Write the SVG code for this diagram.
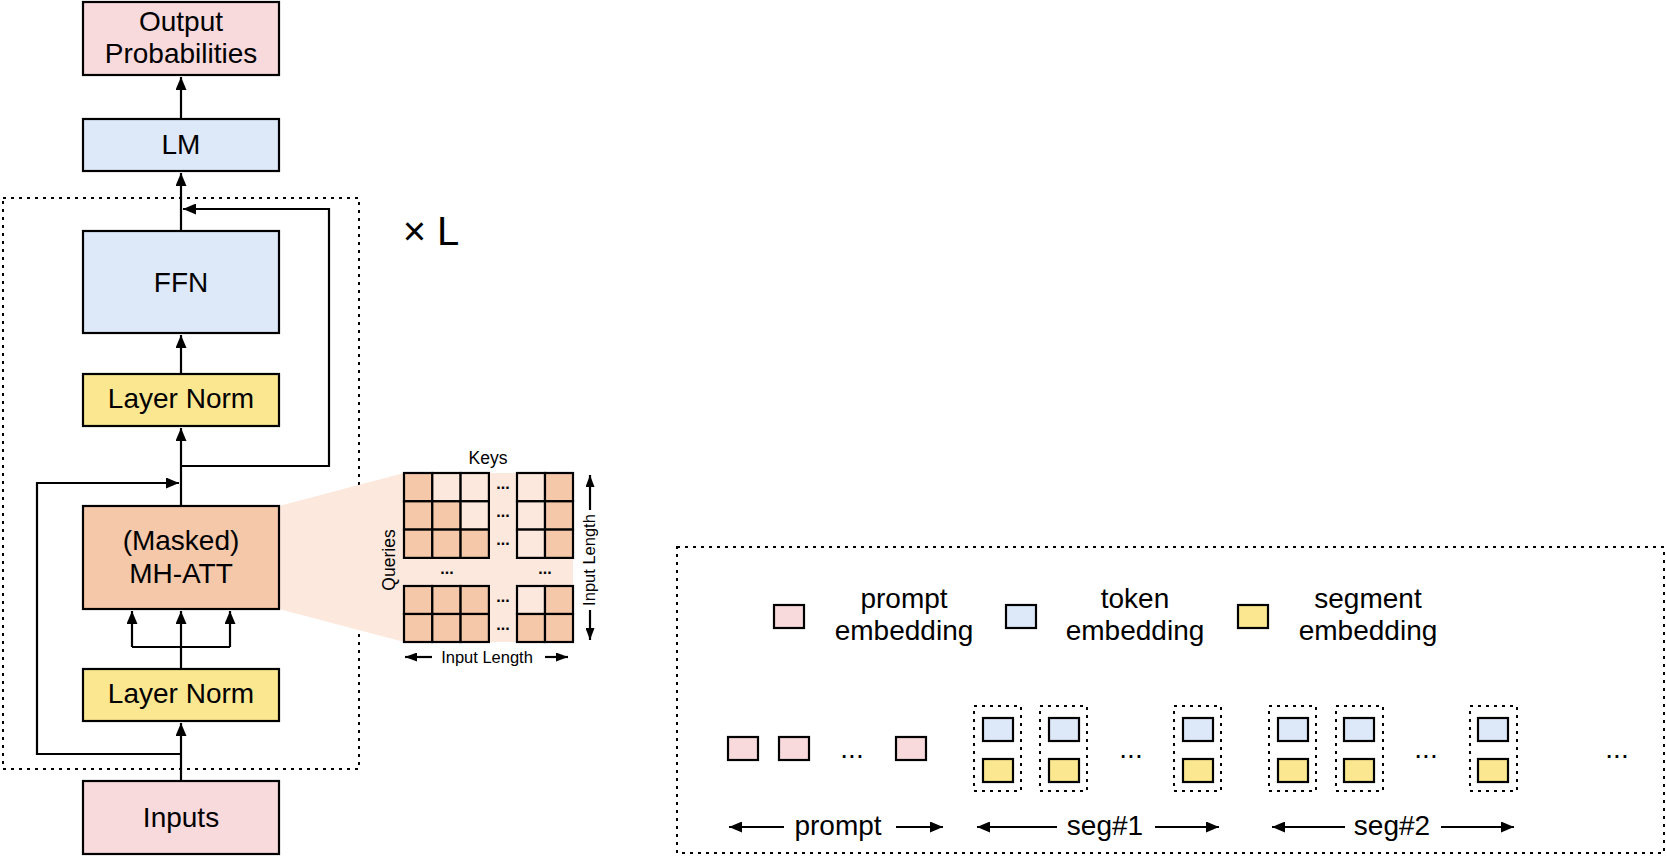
<svg xmlns="http://www.w3.org/2000/svg" width="1666" height="856" viewBox="0 0 1666 856">
<style>
  .t { font-family: "Liberation Sans", Arial, Helvetica, sans-serif; fill: #000; text-anchor: middle; }
  .lbl { font-size: 28px; }
  .sm { font-size: 16.5px; }
  .md { font-size: 17.5px; }
  .dots { font-size: 16px; font-weight: bold; }
  .box { stroke: #000; stroke-width: 2.2; }
  .pink { fill: #f8d9dc; }
  .blue { fill: #dde8f9; }
  .yellow { fill: #fbe78f; }
  .peach { fill: #f5c8a9; }
  .lpeach { fill: #fce8dd; }
  .dash { fill: none; stroke: #000; stroke-width: 2; stroke-dasharray: 3 5; }
  .ln { fill: none; stroke: #000; stroke-width: 2.2; }
  .cell { stroke: #000; stroke-width: 2.2; }
</style>
<defs>
  <marker id="ah" viewBox="0 0 13 11" refX="13" refY="5.5" markerWidth="13" markerHeight="11" orient="auto" markerUnits="userSpaceOnUse">
    <path d="M0,0 L13,5.5 L0,11 z" fill="#000"/>
  </marker>
  <marker id="ahs" viewBox="0 0 12 9" refX="12" refY="4.5" markerWidth="12" markerHeight="9" orient="auto" markerUnits="userSpaceOnUse">
    <path d="M0,0 L12,4.5 L0,9 z" fill="#000"/>
  </marker>
</defs>

<!-- outer dashed layer box -->
<rect class="dash" x="3" y="198" width="356" height="571"/>
<text class="t" x="431" y="245" style="font-size:40px;">× L</text>

<!-- attention zoom background -->
<g id="attention-matrix">
  <polygon class="lpeach" points="279,506 404,473 573,473 573,642 404,642 279,609"/>
  <!-- top-left block 3x3 -->
  <rect class="cell peach" x="404" y="473" width="28.3" height="28.3"/>
  <rect class="cell lpeach" x="432.3" y="473" width="28.3" height="28.3"/>
  <rect class="cell lpeach" x="460.6" y="473" width="28.3" height="28.3"/>
  <rect class="cell peach" x="404" y="501.3" width="28.3" height="28.3"/>
  <rect class="cell peach" x="432.3" y="501.3" width="28.3" height="28.3"/>
  <rect class="cell lpeach" x="460.6" y="501.3" width="28.3" height="28.3"/>
  <rect class="cell peach" x="404" y="529.6" width="28.3" height="28.3"/>
  <rect class="cell peach" x="432.3" y="529.6" width="28.3" height="28.3"/>
  <rect class="cell peach" x="460.6" y="529.6" width="28.3" height="28.3"/>
  <!-- top-right block 2x3 -->
  <rect class="cell lpeach" x="517" y="473" width="28" height="28.3"/>
  <rect class="cell peach" x="545" y="473" width="28" height="28.3"/>
  <rect class="cell lpeach" x="517" y="501.3" width="28" height="28.3"/>
  <rect class="cell peach" x="545" y="501.3" width="28" height="28.3"/>
  <rect class="cell lpeach" x="517" y="529.6" width="28" height="28.3"/>
  <rect class="cell peach" x="545" y="529.6" width="28" height="28.3"/>
  <!-- bottom-left block 3x2 -->
  <rect class="cell peach" x="404" y="586" width="28.3" height="28"/>
  <rect class="cell peach" x="432.3" y="586" width="28.3" height="28"/>
  <rect class="cell peach" x="460.6" y="586" width="28.3" height="28"/>
  <rect class="cell peach" x="404" y="614" width="28.3" height="28"/>
  <rect class="cell peach" x="432.3" y="614" width="28.3" height="28"/>
  <rect class="cell peach" x="460.6" y="614" width="28.3" height="28"/>
  <!-- bottom-right block 2x2 -->
  <rect class="cell lpeach" x="517" y="586" width="28" height="28"/>
  <rect class="cell peach" x="545" y="586" width="28" height="28"/>
  <rect class="cell peach" x="517" y="614" width="28" height="28"/>
  <rect class="cell peach" x="545" y="614" width="28" height="28"/>
  <!-- dots -->
  <text class="t dots" x="503" y="489">...</text>
  <text class="t dots" x="503" y="517">...</text>
  <text class="t dots" x="503" y="545">...</text>
  <text class="t dots" x="503" y="602">...</text>
  <text class="t dots" x="503" y="630">...</text>
  <text class="t dots" x="447" y="574">...</text>
  <text class="t dots" x="545" y="574">...</text>
  <text class="t md" x="488" y="464">Keys</text>
  <text class="t md" transform="translate(395,560) rotate(-90)" x="0" y="0">Queries</text>
  <text class="t sm" transform="translate(595,560) rotate(-90)" x="0" y="0">Input Length</text>
  <text class="t sm" x="487" y="663">Input Length</text>
  <path class="ln" d="M590,510 V475" marker-end="url(#ahs)"/>
  <path class="ln" d="M590,610 V640" marker-end="url(#ahs)"/>
  <path class="ln" d="M432,657 H405" marker-end="url(#ahs)"/>
  <path class="ln" d="M545,657 H568" marker-end="url(#ahs)"/>
</g>

<!-- nodes -->
<g id="output">
  <rect class="box pink" x="83" y="2" width="196" height="73"/>
  <text class="t lbl" x="181" y="31">Output</text>
  <text class="t lbl" x="181" y="63">Probabilities</text>
</g>
<g id="lm">
  <rect class="box blue" x="83" y="119" width="196" height="52"/>
  <text class="t lbl" x="181" y="154">LM</text>
</g>
<g id="ffn">
  <rect class="box blue" x="83" y="231" width="196" height="102"/>
  <text class="t lbl" x="181" y="292">FFN</text>
</g>
<g id="layernorm1">
  <rect class="box yellow" x="83" y="374" width="196" height="52"/>
  <text class="t lbl" x="181" y="408">Layer Norm</text>
</g>
<g id="mhatt">
  <rect class="box peach" x="83" y="506" width="196" height="103"/>
  <text class="t lbl" x="181" y="550">(Masked)</text>
  <text class="t lbl" x="181" y="583">MH-ATT</text>
</g>
<g id="layernorm2">
  <rect class="box yellow" x="83" y="669" width="196" height="52"/>
  <text class="t lbl" x="181" y="703">Layer Norm</text>
</g>
<g id="inputs">
  <rect class="box pink" x="83" y="781" width="196" height="73"/>
  <text class="t lbl" x="181" y="827">Inputs</text>
</g>

<!-- connectors -->
<g id="connectors">
  <path class="ln" d="M181,119 V77" marker-end="url(#ah)"/>
  <path class="ln" d="M181,231 V173" marker-end="url(#ah)"/>
  <path class="ln" d="M181,466 H329 V209 H183" marker-end="url(#ah)"/>
  <path class="ln" d="M181,374 V335" marker-end="url(#ah)"/>
  <path class="ln" d="M181,506 V428" marker-end="url(#ah)"/>
  <path class="ln" d="M181,754 H37 V483 H179" marker-end="url(#ah)"/>
  <path class="ln" d="M181,669 V647 M132,647 H230"/>
  <path class="ln" d="M132,647 V611" marker-end="url(#ah)"/>
  <path class="ln" d="M181,647 V611" marker-end="url(#ah)"/>
  <path class="ln" d="M230,647 V611" marker-end="url(#ah)"/>
  <path class="ln" d="M181,781 V723" marker-end="url(#ah)"/>
</g>

<!-- right panel -->
<g id="embedding-panel">
  <rect class="dash" x="677" y="547" width="987" height="306"/>
  <g id="legend-prompt">
    <rect class="box pink" x="774" y="605" width="30" height="23"/>
    <text class="t lbl" x="904" y="608">prompt</text>
    <text class="t lbl" x="904" y="640">embedding</text>
  </g>
  <g id="legend-token">
    <rect class="box blue" x="1006" y="605" width="30" height="23"/>
    <text class="t lbl" x="1135" y="608">token</text>
    <text class="t lbl" x="1135" y="640">embedding</text>
  </g>
  <g id="legend-segment">
    <rect class="box yellow" x="1238" y="605" width="30" height="23"/>
    <text class="t lbl" x="1368" y="608">segment</text>
    <text class="t lbl" x="1368" y="640">embedding</text>
  </g>
  <g id="prompt-tokens">
    <rect class="box pink" x="728" y="737" width="30" height="23"/>
    <rect class="box pink" x="779" y="737" width="30" height="23"/>
    <text class="t lbl" x="852" y="758">...</text>
    <rect class="box pink" x="896" y="737" width="30" height="23"/>
  </g>
  <g id="seg1-tokens">
    <rect class="dash" x="974" y="706" width="47" height="85"/>
    <rect class="box blue" x="983" y="718" width="30" height="23"/>
    <rect class="box yellow" x="983" y="759" width="30" height="23"/>
    <rect class="dash" x="1040" y="706" width="47" height="85"/>
    <rect class="box blue" x="1049" y="718" width="30" height="23"/>
    <rect class="box yellow" x="1049" y="759" width="30" height="23"/>
    <text class="t lbl" x="1131" y="758">...</text>
    <rect class="dash" x="1174" y="706" width="47" height="85"/>
    <rect class="box blue" x="1183" y="718" width="30" height="23"/>
    <rect class="box yellow" x="1183" y="759" width="30" height="23"/>
  </g>
  <g id="seg2-tokens">
    <rect class="dash" x="1269" y="706" width="47" height="85"/>
    <rect class="box blue" x="1278" y="718" width="30" height="23"/>
    <rect class="box yellow" x="1278" y="759" width="30" height="23"/>
    <rect class="dash" x="1336" y="706" width="47" height="85"/>
    <rect class="box blue" x="1344" y="718" width="30" height="23"/>
    <rect class="box yellow" x="1344" y="759" width="30" height="23"/>
    <text class="t lbl" x="1426" y="758">...</text>
    <rect class="dash" x="1470" y="706" width="47" height="85"/>
    <rect class="box blue" x="1478" y="718" width="30" height="23"/>
    <rect class="box yellow" x="1478" y="759" width="30" height="23"/>
  </g>
  <text class="t lbl" x="1617" y="758">...</text>
  <g id="span-labels">
    <text class="t lbl" x="838" y="835">prompt</text>
    <path class="ln" d="M784,827 H729" marker-end="url(#ah)"/>
    <path class="ln" d="M896,827 H943" marker-end="url(#ah)"/>
    <text class="t lbl" x="1105" y="835">seg#1</text>
    <path class="ln" d="M1057,827 H977" marker-end="url(#ah)"/>
    <path class="ln" d="M1155,827 H1219" marker-end="url(#ah)"/>
    <text class="t lbl" x="1392" y="835">seg#2</text>
    <path class="ln" d="M1345,827 H1272" marker-end="url(#ah)"/>
    <path class="ln" d="M1441,827 H1514" marker-end="url(#ah)"/>
  </g>
</g>
</svg>
